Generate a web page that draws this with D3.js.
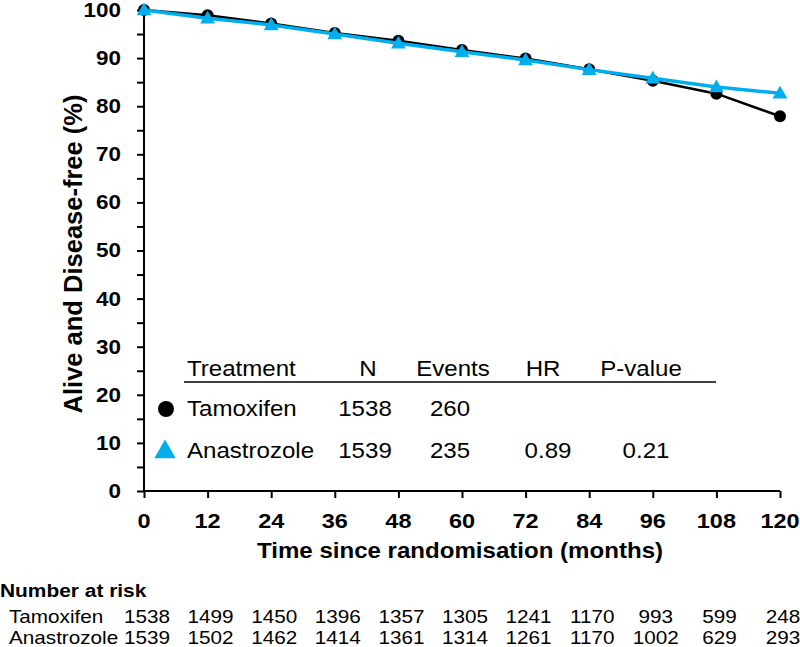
<!DOCTYPE html>
<html><head><meta charset="utf-8">
<script src="https://cdn.jsdelivr.net/npm/d3@7"></script>
<style>body{margin:0;background:#fff}svg{display:block}text{font-family:"Liberation Sans",Arial,sans-serif}</style>
</head><body>
<svg id="c" width="800" height="647"></svg>
<script>
const months = [0, 12, 24, 36, 48, 60, 72, 84, 96, 108, 120];
const tamoxifen = [100, 98.9, 97.2, 95.2, 93.6, 91.7, 89.9, 87.7, 85.3, 82.6, 77.9];
const anastrozole = [100, 98.3, 96.9, 95.0, 93.1, 91.3, 89.6, 87.6, 85.8, 84.0, 82.7];
const yTicks = [0, 10, 20, 30, 40, 50, 60, 70, 80, 90, 100];
const atRiskTam = [1538, 1499, 1450, 1396, 1357, 1305, 1241, 1170, 993, 599, 248];
const atRiskAna = [1539, 1502, 1462, 1414, 1361, 1314, 1261, 1170, 1002, 629, 293];
const tableHeader = ["Treatment", "N", "Events", "HR", "P-value"];
const tableRows = [["Tamoxifen", "1538", "260", "", ""], ["Anastrozole", "1539", "235", "0.89", "0.21"]];

const BLUE = "#00AEEF";
const SX = 1.12;
const svg = d3.select("#c");
const x = d3.scaleLinear().domain([0, 120]).range([144, 780]);
const y = d3.scaleLinear().domain([0, 100]).range([491, 10]);

function txt(g, s, px, py, opts) {
  opts = opts || {};
  return g.append("text")
    .attr("transform", `translate(${px},${py}) scale(${opts.sx || SX},1)`)
    .attr("text-anchor", opts.anchor || "start")
    .attr("dominant-baseline", "central")
    .style("font-size", (opts.size || 20) + "px")
    .style("font-weight", opts.bold ? "bold" : "normal")
    .attr("fill", "#000").text(s);
}

// Y axis
const yAxis = d3.axisLeft(y).tickValues(d3.range(0, 101, 5)).tickSize(7).tickFormat("");
const gy = svg.append("g").attr("transform", "translate(144,0)").call(yAxis);
gy.selectAll("path,line").attr("stroke", "#000").attr("stroke-width", 2);
gy.select(".domain").attr("d", `M0,${y(100)}V${y(0)}`);
yTicks.forEach(t => txt(svg, String(t), 121, y(t), {anchor: "end", size: 19.5, bold: true, sx: 1.15}));

// X axis
const xAxis = d3.axisBottom(x).tickValues(months).tickSize(7).tickFormat("");
const gx = svg.append("g").attr("transform", `translate(0,${y(0)})`).call(xAxis);
gx.selectAll("path,line").attr("stroke", "#000").attr("stroke-width", 2);
gx.select(".domain").attr("d", `M${x(0)},0H${x(120)}`);
months.forEach(m => txt(svg, String(m), x(m), 521, {anchor: "middle", size: 21, bold: true, sx: 1.12}));

// Axis titles
txt(svg, "Time since randomisation (months)", 460, 550, {anchor: "middle", size: 21.5, bold: true});
svg.append("text")
  .attr("transform", `translate(73,254) rotate(-90)`)
  .attr("text-anchor", "middle").attr("dominant-baseline", "central")
  .style("font-size", "25.5px").style("font-weight", "bold").text("Alive and Disease-free (%)");

// Lines
const line = d3.line().x((d, i) => x(months[i])).y(d => y(d));
svg.append("path").datum(tamoxifen).attr("d", line).attr("fill", "none").attr("stroke", "#000").attr("stroke-width", 2.5);
svg.selectAll(".tm").data(tamoxifen).enter().append("circle")
  .attr("cx", (d, i) => x(months[i])).attr("cy", d => y(d)).attr("r", 6).attr("fill", "#000");
svg.append("path").datum(anastrozole).attr("d", line).attr("fill", "none").attr("stroke", BLUE).attr("stroke-width", 3.5);
const tri = d3.symbol().type(d3.symbolTriangle).size(95);
svg.selectAll(".an").data(anastrozole).enter().append("path")
  .attr("d", tri).attr("transform", (d, i) => `translate(${x(months[i])},${y(d) + 1})`).attr("fill", BLUE);

// Legend table
const colX = [187, 368, 453, 543, 641];
const rowY = [368, 408, 450];
const lg = svg.append("g");
tableHeader.forEach((h, i) => txt(lg, h, colX[i], rowY[0], {anchor: i === 0 ? "start" : "middle", size: 21.5}));
lg.append("line").attr("x1", 184).attr("x2", 716).attr("y1", 382).attr("y2", 382).attr("stroke", "#000").attr("stroke-width", 1.5);
tableRows.forEach((r, ri) => r.forEach((c, i) => { if (c) txt(lg, c, i === 0 ? colX[0] : colX[i] + (i >= 3 ? 5 : -3), rowY[ri + 1], {anchor: i === 0 ? "start" : "middle", size: 21.5}); }));
lg.append("circle").attr("cx", 166).attr("cy", rowY[1] + 1).attr("r", 8).attr("fill", "#000");
lg.append("path").attr("d", d3.symbol().type(d3.symbolTriangle).size(200)).attr("transform", `translate(165,${rowY[2] + 2})`).attr("fill", BLUE);

// Number at risk
txt(svg, "Number at risk", 0, 590, {size: 19, bold: true, sx: 1.1});
txt(svg, "Tamoxifen", 9, 617, {size: 18, sx: 1.15});
txt(svg, "Anastrozole", 9, 638, {size: 18, sx: 1.15});
atRiskTam.forEach((v, i) => txt(svg, String(v), x(months[i]) + 3, 617, {anchor: "middle", size: 18, sx: 1.15}));
atRiskAna.forEach((v, i) => txt(svg, String(v), x(months[i]) + 3, 638, {anchor: "middle", size: 18, sx: 1.15}));
</script>
</body></html>
